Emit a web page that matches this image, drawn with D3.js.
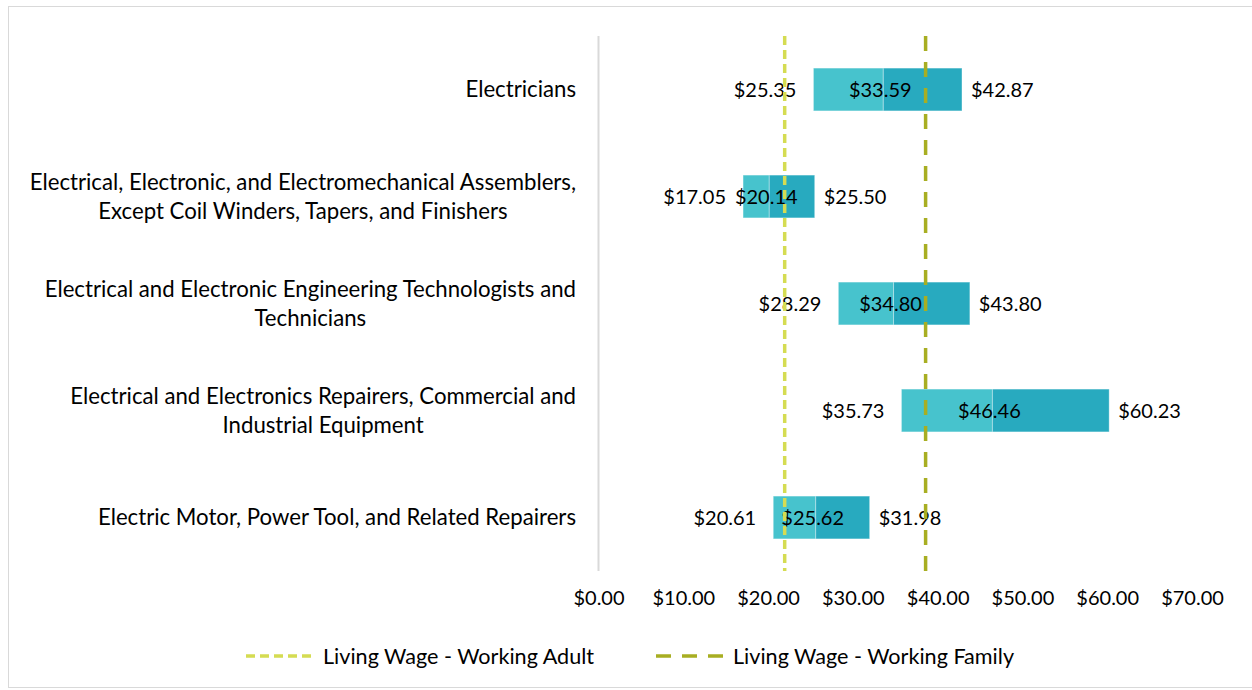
<!DOCTYPE html>
<html>
<head>
<meta charset="utf-8">
<script src="https://cdn.jsdelivr.net/npm/d3@7"></script>
<style>
  body { margin: 0; background: #fff; }
  svg text { font-family: Lato, "Open Sans", sans-serif; fill: #000; }
</style>
</head>
<body>
<svg id="chart"></svg>
<script>
// data
const categories = [
  ["Electricians"],
  ["Electrical, Electronic, and Electromechanical Assemblers,", "Except Coil Winders, Tapers, and Finishers"],
  ["Electrical and Electronic Engineering Technologists and", "Technicians"],
  ["Electrical and Electronics Repairers, Commercial and", "Industrial Equipment"],
  ["Electric Motor, Power Tool, and Related Repairers"]
];
const lowWage = [25.35, 17.05, 28.29, 35.73, 20.61];
const medianWage = [33.59, 20.14, 34.80, 46.46, 25.62];
const highWage = [42.87, 25.50, 43.80, 60.23, 31.98];
const xTicks = [0, 10, 20, 30, 40, 50, 60, 70];
const livingWageAdult = 21.96;
const livingWageFamily = 38.58;
const legendLabels = ["Living Wage - Working Adult", "Living Wage - Working Family"];

const WIDTH = 1252, HEIGHT = 690;
const PLOT_LEFT = 598.5, PLOT_RIGHT = 1192, PLOT_TOP = 36, PLOT_BOTTOM = 571;
const LIGHT = "#47c3cd", DARK = "#28aabf";
const ADULT_COLOR = "#d5dc52", FAMILY_COLOR = "#a8ae22";
const FONT = 20;      // numbers
const LABEL_FONT = 22.2; // category names
const LEGEND_FONT = 21.6;
const LABEL_RIGHT = 576;

const rows = categories.map((c, i) => ({
  label: c, low: lowWage[i], mid: medianWage[i], high: highWage[i], idx: i
}));

const svg = d3.select("#chart").attr("width", WIDTH).attr("height", HEIGHT);

// chart border
svg.append("rect")
  .attr("x", 8.5).attr("y", 6.5)
  .attr("width", WIDTH).attr("height", 681)
  .attr("fill", "none").attr("stroke", "#d9d9d9");

const x = d3.scaleLinear().domain([0, 70]).range([PLOT_LEFT, PLOT_RIGHT]);
const y = d3.scaleBand().domain(d3.range(rows.length))
  .range([PLOT_TOP, PLOT_BOTTOM]).paddingInner(0.6).paddingOuter(0.3);
const mid = i => y(i) + y.bandwidth() / 2;

// x axis labels (no line, no ticks)
const xAxis = d3.axisBottom(x).tickValues(xTicks)
  .tickFormat(d3.format("$,.2f")).tickSize(0).tickPadding(0);
const gx = svg.append("g").attr("transform", "translate(0,591)").call(xAxis);
gx.select(".domain").remove();
gx.selectAll("text").style("font-size", FONT + "px").attr("font-family", null);

// vertical category axis line
svg.append("line")
  .attr("x1", PLOT_LEFT).attr("x2", PLOT_LEFT)
  .attr("y1", PLOT_TOP).attr("y2", PLOT_BOTTOM)
  .attr("stroke", "#d9d9d9").attr("stroke-width", 2);

// category labels: block right aligned, lines centred inside the block
const cat = svg.append("g").selectAll("text").data(rows).join("text")
  .attr("text-anchor", "middle")
  .style("font-size", LABEL_FONT + "px");
cat.each(function(d) {
  const t = d3.select(this);
  const n = d.label.length;
  const spans = d.label.map((line, k) =>
    t.append("tspan")
      .attr("y", mid(d.idx) + (k - (n - 1) / 2) * 29)
      .attr("dy", "0.35em")
      .text(line));
  const w = d3.max(spans, s => s.node().getComputedTextLength());
  spans.forEach(s => s.attr("x", LABEL_RIGHT - w / 2));
});

// bars: low -> median (light), median -> high (dark)
const bars = svg.append("g");
bars.selectAll(".lo").data(rows).join("rect")
  .attr("x", d => x(d.low)).attr("y", d => y(d.idx))
  .attr("width", d => x(d.mid) - x(d.low)).attr("height", y.bandwidth())
  .attr("fill", LIGHT).attr("stroke", "#ffffff").attr("stroke-opacity", 0.35);
bars.selectAll(".hi").data(rows).join("rect")
  .attr("x", d => x(d.mid)).attr("y", d => y(d.idx))
  .attr("width", d => x(d.high) - x(d.mid)).attr("height", y.bandwidth())
  .attr("fill", DARK).attr("stroke", "#ffffff").attr("stroke-opacity", 0.35);

// value labels
const money = d3.format("$.2f");
const labels = svg.append("g").style("font-size", FONT + "px");
labels.selectAll(".l").data(rows).join("text")
  .attr("x", d => x(d.low) - 17).attr("y", d => mid(d.idx)).attr("dy", "0.35em")
  .attr("text-anchor", "end").text(d => money(d.low));
labels.selectAll(".m").data(rows).join("text")
  .attr("x", d => x(d.mid) - 3).attr("y", d => mid(d.idx)).attr("dy", "0.35em")
  .attr("text-anchor", "middle").text(d => money(d.mid));
labels.selectAll(".h").data(rows).join("text")
  .attr("x", d => x(d.high) + 9).attr("y", d => mid(d.idx)).attr("dy", "0.35em")
  .attr("text-anchor", "start").text(d => money(d.high));

// living wage reference lines
const refs = [
  { v: livingWageAdult, color: ADULT_COLOR, dash: "9,5" },
  { v: livingWageFamily, color: FAMILY_COLOR, dash: "15,11" }
];
svg.append("g").selectAll("line").data(refs).join("line")
  .attr("x1", d => x(d.v)).attr("x2", d => x(d.v))
  .attr("y1", PLOT_TOP).attr("y2", PLOT_BOTTOM)
  .attr("stroke", d => d.color).attr("stroke-width", 3.5)
  .attr("stroke-dasharray", d => d.dash);

// legend
const legendX = [246, 656];
const leg = svg.append("g").selectAll("g").data(refs).join("g")
  .attr("transform", (d, i) => "translate(" + legendX[i] + ",656)");
leg.append("line")
  .attr("x1", 0).attr("x2", 70)
  .attr("stroke", d => d.color).attr("stroke-width", 3.5)
  .attr("stroke-dasharray", d => d.dash);
leg.append("text")
  .attr("x", 77).attr("dy", "0.35em")
  .style("font-size", LEGEND_FONT + "px")
  .text((d, i) => legendLabels[i]);
</script>
</body>
</html>
